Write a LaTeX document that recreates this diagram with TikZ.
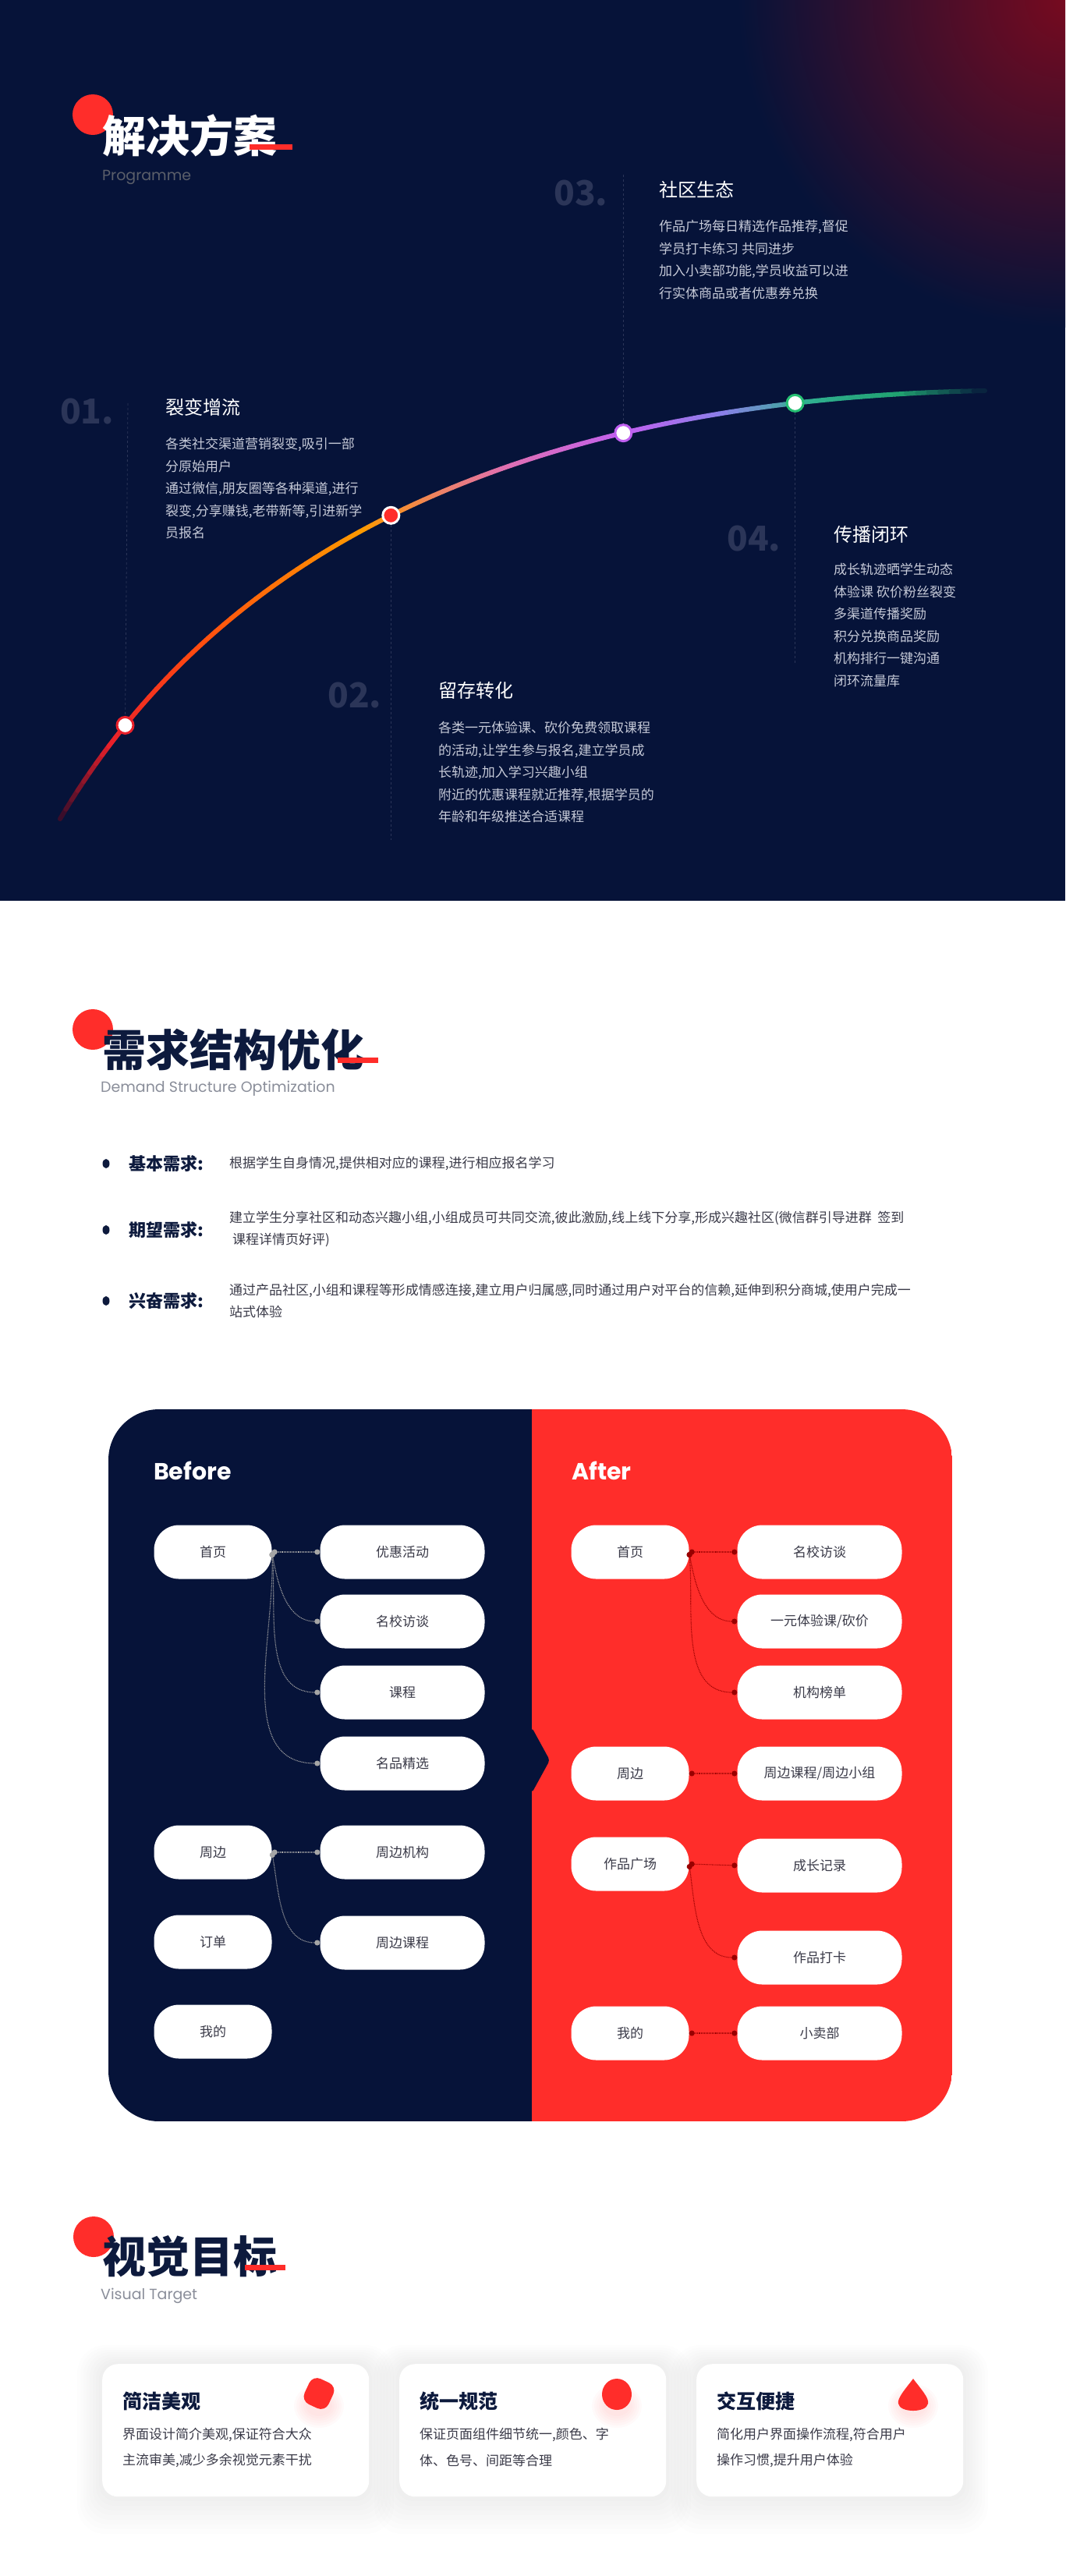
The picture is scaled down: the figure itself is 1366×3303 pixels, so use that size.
\documentclass[tikz,border=0pt]{standalone}
\usepackage{fontspec}
\setmainfont{Noto Sans CJK SC}
\newfontfamily\latinfont{Poppins}
\usetikzlibrary{arrows.meta}

\definecolor{navy}{HTML}{061339}
\definecolor{redm}{HTML}{FF2D2A}
\definecolor{numgrey}{HTML}{2B3558}
\definecolor{bodylight}{HTML}{C6CAD8}
\definecolor{inktext}{HTML}{3A3A48}
\definecolor{inknavy}{HTML}{0D1A3D}
\definecolor{subgrey}{HTML}{8A8E9A}
\definecolor{g0}{HTML}{3A0D2A}
\definecolor{g1}{HTML}{E8202A}
\definecolor{g2}{HTML}{FF4A10}
\definecolor{g3}{HTML}{FF9A00}
\definecolor{g4}{HTML}{E070B0}
\definecolor{g5}{HTML}{C060F0}
\definecolor{g6}{HTML}{8A80E8}
\definecolor{g7}{HTML}{30B090}
\definecolor{g8}{HTML}{20A070}

\begin{document}
\begin{tikzpicture}[x=1pt,y=-1pt]

    \tikzstyle{pill} = [fill=white, rounded corners=32pt, minimum height=69, inner sep=0,
                        text=inktext, font=\fontsize{17}{20}\selectfont];
    \tikzstyle{pill a} = [pill, minimum width=151];
    \tikzstyle{pill b} = [pill, minimum width=211];
    \tikzstyle{bline} = [densely dotted, line width=1.1, gray!70, {Circle[length=7pt]}-{Circle[length=7pt]}];
    \tikzstyle{rline} = [densely dotted, line width=1.1, red!60!black, {Circle[length=7pt]}-{Circle[length=7pt]}];
    \tikzstyle{num} = [anchor=west, inner sep=0, text=numgrey, font=\fontsize{44}{44}\bfseries];
    \tikzstyle{stage} = [anchor=west, inner sep=0, text=white, font=\fontsize{24}{24}\selectfont];
    \tikzstyle{body} = [anchor=north west, inner sep=0, align=left, text=bodylight,
                        font=\fontsize{17}{28.5}\selectfont];
    \tikzstyle{vline} = [dashed, line width=0.8, numgrey];
    \tikzstyle{mark dot} = [circle, draw, line width=3, fill=white, minimum size=21, inner sep=0];
    \tikzstyle{big title} = [anchor=west, inner sep=0, font=\fontsize{56}{60}\bfseries];
    \tikzstyle{sub title} = [anchor=west, inner sep=0, text=subgrey, font=\latinfont\fontsize{19}{20}\selectfont];
    \tikzstyle{demand} = [anchor=north west, inner sep=0, align=left, text=inktext, font=\fontsize{17}{28}\selectfont];

    \useasboundingbox (0,0) rectangle (1366,3303);
    \fill[white] (0,0) rectangle (1366,3303);

    % Panel 1: solution
    \fill[navy] (0,0) rectangle (1366,1155);
    \begin{scope}
        \clip (0,0) rectangle (1366,1155);
        \shade[inner color=red!45!navy, outer color=navy] (1366,0) circle (420);
    \end{scope}

    \fill[redm] (119,147) circle (26);
    \node[big title, text=white] (T1) at (131,174) {解决方案};
    \fill[redm] (320,185) rectangle (375,192);
    \node[sub title, text=gray!70!navy] (S1) at (131,227) {Programme};

    % gradient curve
    \path (77,1050) .. controls (320,640) and (780,510) .. (1263,501)
        \foreach \k in {0,...,100} {coordinate[pos=\k/100] (c\k)}
        node[pos=0.105] (P1) {} node[pos=0.435] (P2) {}
        node[pos=0.67] (P3) {} node[pos=0.83] (P4) {};
    \foreach \ka/\kb/\ca/\cb in {0/8/g0/g1, 8/20/g1/g2, 20/40/g2/g3, 40/55/g3/g4,
            55/67/g4/g5, 67/76/g5/g6, 76/84/g6/g7, 84/92/g7/g8, 92/100/g8/navy} {
        \pgfmathtruncatemacro\kbm{\kb-1}
        \foreach \j in {\ka,...,\kbm} {
            \pgfmathtruncatemacro\jn{\j+1}
            \pgfmathtruncatemacro\pc{100*(\kb-\j)/(\kb-\ka)}
            \draw[line width=6, line cap=round, \ca!\pc!\cb] (c\j) -- (c\jn);
        }
    }

    \coordinate (V1) at (164,517);
    \coordinate (V2) at (P2 |- 0,1077);
    \coordinate (V3) at (P3 |- 0,224);
    \coordinate (V4) at (P4 |- 0,850);
    \draw[vline] (V1) -- (P1.center);
    \draw[vline] (P2.center) -- (V2);
    \draw[vline] (V3) -- (P3.center);
    \draw[vline] (P4.center) -- (V4);

    \node[mark dot, draw=g1] at (P1) {};
    \node[mark dot, draw=white, fill=redm] at (P2) {};
    \node[mark dot, draw=g5] at (P3) {};
    \node[mark dot, draw=g7!80!green] at (P4) {};

    \node[num] (N1) at (77,528) {01.};
    \node[stage] (H1) at (212,522) {裂变增流};
    \node[body] (B1) at (212,561) {各类社交渠道营销裂变,吸引一部\\分原始用户\\通过微信,朋友圈等各种渠道,进行\\裂变,分享赚钱,老带新等,引进新学\\员报名};

    \node[num] (N2) at (420,892) {02.};
    \node[stage] (H2) at (562,885) {留存转化};
    \node[body] (B2) at (562,925) {各类一元体验课、砍价免费领取课程\\的活动,让学生参与报名,建立学员成\\长轨迹,加入学习兴趣小组\\附近的优惠课程就近推荐,根据学员的\\年龄和年级推送合适课程};

    \node[num] (N3) at (710,248) {03.};
    \node[stage] (H3) at (845,243) {社区生态};
    \node[body] (B3) at (845,282) {作品广场每日精选作品推荐,督促\\学员打卡练习 共同进步\\加入小卖部功能,学员收益可以进\\行实体商品或者优惠券兑换};

    \node[num] (N4) at (932,691) {04.};
    \node[stage] (H4) at (1069,685) {传播闭环};
    \node[body] (B4) at (1069,722) {成长轨迹晒学生动态\\体验课 砍价粉丝裂变\\多渠道传播奖励\\积分兑换商品奖励\\机构排行一键沟通\\闭环流量库};

    % Panel 2: demand
    \fill[redm] (119,1320) circle (26);
    \node[big title, text=inknavy] (T2) at (131,1346) {需求结构优化};
    \fill[redm] (433,1356) rectangle (485,1363);
    \node[sub title] (S2) at (129,1396) {Demand Structure Optimization};

    \foreach \yy/\lab in {1492/基本需求:, 1577/期望需求:, 1668/兴奋需求:} {
        \fill[inknavy] (136,\yy) ellipse (4.5 and 6);
        \node[anchor=west, inner sep=0, text=inknavy, font=\fontsize{22}{22}\bfseries] at (165,\yy) {\lab};
    }
    \node[demand] (R1) at (294,1483) {根据学生自身情况,提供相对应的课程,进行相应报名学习};
    \node[demand] (R2) at (294,1553) {建立学生分享社区和动态兴趣小组,小组成员可共同交流,彼此激励,线上线下分享,形成兴趣社区(微信群引导进群\ \ 签到\\\ 课程详情页好评)};
    \node[demand] (R3) at (294,1646) {通过产品社区,小组和课程等形成情感连接,建立用户归属感,同时通过用户对平台的信赖,延伸到积分商城,使用户完成一\\站式体验};

    % before / after board
    \begin{scope}
        \clip[rounded corners=65] (139,1807) rectangle (1221,2720);
        \fill[navy] (139,1807) rectangle (682,2720);
        \fill[redm] (682,1807) rectangle (1221,2720);
        \fill[navy, rounded corners=4] (682,2215) -- (705,2257) -- (682,2299) -- cycle;
    \end{scope}
    \node[anchor=west, inner sep=0, text=white, font=\latinfont\bfseries\fontsize{30}{30}\selectfont] (BF) at (197,1886) {Before};
    \node[anchor=west, inner sep=0, text=white, font=\latinfont\bfseries\fontsize{30}{30}\selectfont] (AF) at (733,1886) {After};

    \node[pill a] (L1) at (273,1990) {首页};
    \node[pill a] (L2) at (273,2375) {周边};
    \node[pill a] (L3) at (273,2490) {订单};
    \node[pill a] (L4) at (273,2605) {我的};
    \node[pill b] (M1) at (516,1990) {优惠活动};
    \node[pill b] (M2) at (516,2079) {名校访谈};
    \node[pill b] (M3) at (516,2170) {课程};
    \node[pill b] (M4) at (516,2261) {名品精选};
    \node[pill b] (M5) at (516,2375) {周边机构};
    \node[pill b] (M6) at (516,2491) {周边课程};

    \draw[bline] (L1.east) -- (M1.west);
    \draw[bline] (L1.east) to[out=-80, in=180] (M2.west);
    \draw[bline] (L1.east) to[out=-85, in=180] (M3.west);
    \draw[bline] (L1.east) to[out=-88, in=180] (M4.west);
    \draw[bline] (L2.east) -- (M5.west);
    \draw[bline] (L2.east) to[out=-80, in=180] (M6.west);

    \node[pill a] (A1) at (808,1990) {首页};
    \node[pill a] (A2) at (808,2274) {周边};
    \node[pill a] (A3) at (808,2390) {作品广场};
    \node[pill a] (A4) at (808,2607) {我的};
    \node[pill b] (D1) at (1051,1990) {名校访谈};
    \node[pill b] (D2) at (1051,2079) {一元体验课/砍价};
    \node[pill b] (D3) at (1051,2170) {机构榜单};
    \node[pill b] (D4) at (1051,2274) {周边课程/周边小组};
    \node[pill b] (D5) at (1051,2392) {成长记录};
    \node[pill b] (D6) at (1051,2510) {作品打卡};
    \node[pill b] (D7) at (1051,2607) {小卖部};

    \draw[rline] (A1.east) -- (D1.west);
    \draw[rline] (A1.east) to[out=-80, in=180] (D2.west);
    \draw[rline] (A1.east) to[out=-85, in=180] (D3.west);
    \draw[rline] (A2.east) -- (D4.west);
    \draw[rline] (A3.east) -- (D5.west);
    \draw[rline] (A3.east) to[out=-82, in=180] (D6.west);
    \draw[rline] (A4.east) -- (D7.west);

    % Panel 3: visual target
    \fill[redm] (120,2868) circle (26);
    \node[big title, text=inknavy] (T3) at (131,2893) {视觉目标};
    \fill[redm] (314,2904) rectangle (366,2911);
    \node[sub title] (S3) at (129,2944) {Visual Target};

    \foreach \cx/\head/\lna/\lnb/\nm in {131/简洁美观/{界面设计简介美观,保证符合大众}/{主流审美,减少多余视觉元素干扰}/C1,
            512/统一规范/{保证页面组件细节统一,颜色、字}/{体、色号、间距等合理}/C2,
            893/交互便捷/{简化用户界面操作流程,符合用户}/{操作习惯,提升用户体验}/C3} {
        \foreach \s in {1,...,8}
            \fill[black, opacity=0.006, rounded corners=20+\s*2] (\cx-\s*4,3031-\s*3) rectangle (\cx+342+\s*4,3201+\s*6);
        \node[fill=white, rounded corners=20, minimum width=342, minimum height=170, anchor=north west] (\nm) at (\cx,3031) {};
        \node[anchor=west, inner sep=0, text=inknavy, font=\fontsize{25}{25}\bfseries] at (\cx+26,3079) {\head};
        \node[anchor=west, inner sep=0, text=inktext, font=\fontsize{17}{17}\selectfont] at (\cx+26,3122) {\lna};
        \node[anchor=west, inner sep=0, text=inktext, font=\fontsize{17}{17}\selectfont] at (\cx+26,3155) {\lnb};
    }
    \foreach \bx in {409,791,1171}
        \foreach \s in {1,...,6}
            \fill[redm, opacity=0.02] (\bx,3085) ellipse (14+\s*3 and 10+\s*3);
    \fill[redm, rounded corners=11, rotate around={-25:(409,3069)}] (392,3051) rectangle (426,3087);
    \fill[redm] (791,3070) ellipse (19 and 20);
    \fill[redm] (1171,3050) .. controls (1180,3062) and (1192,3075) .. (1190,3082)
        .. controls (1188,3094) and (1154,3094) .. (1152,3082)
        .. controls (1150,3075) and (1162,3062) .. (1171,3050) -- cycle;
\end{tikzpicture}
\end{document}
